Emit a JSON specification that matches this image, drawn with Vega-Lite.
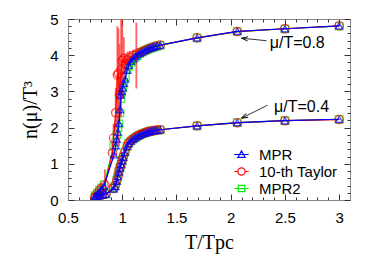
{
  "$schema": "https://vega.github.io/schema/vega-lite/v6.json",
  "width": 282,
  "height": 181,
  "autosize": "none",
  "padding": {"left": 68, "top": 19, "right": 32, "bottom": 67},
  "config": {
    "view": {"stroke": "#888888", "strokeWidth": 1},
    "axis": {"labelFont": "Liberation Sans", "labelFontSize": 15, "labelColor": "black", "tickColor": "#333333", "domainColor": "#888888", "titleFont": "Liberation Serif", "titleFontSize": 20, "titleFontWeight": "normal", "titleColor": "black", "grid": false, "labelFlush": false, "labelOverlap": false, "labelBound": false}
  },
  "datasets": {
    "mpr": [
      {"series":"MPR","mu":0.4,"T":0.75,"n":0.08},{"series":"MPR","mu":0.4,"T":0.77,"n":0.1},{"series":"MPR","mu":0.4,"T":0.79,"n":0.12},{"series":"MPR","mu":0.4,"T":0.82,"n":0.14},{"series":"MPR","mu":0.4,"T":0.85,"n":0.16},{"series":"MPR","mu":0.4,"T":0.92,"n":0.3},{"series":"MPR","mu":0.4,"T":0.935,"n":0.37},{"series":"MPR","mu":0.4,"T":0.95,"n":0.52},{"series":"MPR","mu":0.4,"T":0.96,"n":0.65},{"series":"MPR","mu":0.4,"T":0.97,"n":0.77},{"series":"MPR","mu":0.4,"T":0.98,"n":0.88},{"series":"MPR","mu":0.4,"T":0.99,"n":0.98},{"series":"MPR","mu":0.4,"T":1.0,"n":1.08},{"series":"MPR","mu":0.4,"T":1.01,"n":1.18},{"series":"MPR","mu":0.4,"T":1.025,"n":1.32},{"series":"MPR","mu":0.4,"T":1.045,"n":1.48},{"series":"MPR","mu":0.4,"T":1.06,"n":1.56},{"series":"MPR","mu":0.4,"T":1.08,"n":1.63},{"series":"MPR","mu":0.4,"T":1.1,"n":1.68},{"series":"MPR","mu":0.4,"T":1.12,"n":1.72},{"series":"MPR","mu":0.4,"T":1.14,"n":1.76},{"series":"MPR","mu":0.4,"T":1.16,"n":1.79},{"series":"MPR","mu":0.4,"T":1.18,"n":1.82},{"series":"MPR","mu":0.4,"T":1.2,"n":1.84},{"series":"MPR","mu":0.4,"T":1.22,"n":1.86},{"series":"MPR","mu":0.4,"T":1.24,"n":1.88},{"series":"MPR","mu":0.4,"T":1.26,"n":1.9},{"series":"MPR","mu":0.4,"T":1.28,"n":1.91},{"series":"MPR","mu":0.4,"T":1.3,"n":1.92},{"series":"MPR","mu":0.4,"T":1.32,"n":1.93},{"series":"MPR","mu":0.4,"T":1.35,"n":1.94},{"series":"MPR","mu":0.4,"T":1.69,"n":2.05},{"series":"MPR","mu":0.4,"T":2.06,"n":2.14},{"series":"MPR","mu":0.4,"T":2.5,"n":2.19},{"series":"MPR","mu":0.4,"T":3.0,"n":2.23},
      {"series":"MPR","mu":0.8,"T":0.75,"n":0.1},{"series":"MPR","mu":0.8,"T":0.77,"n":0.17},{"series":"MPR","mu":0.8,"T":0.79,"n":0.24},{"series":"MPR","mu":0.8,"T":0.81,"n":0.3},{"series":"MPR","mu":0.8,"T":0.83,"n":0.38},{"series":"MPR","mu":0.8,"T":0.925,"n":1.25},{"series":"MPR","mu":0.8,"T":0.94,"n":1.5},{"series":"MPR","mu":0.8,"T":0.95,"n":1.68},{"series":"MPR","mu":0.8,"T":0.96,"n":1.87},{"series":"MPR","mu":0.8,"T":0.97,"n":2.12},{"series":"MPR","mu":0.8,"T":0.98,"n":2.5},{"series":"MPR","mu":0.8,"T":0.987,"n":2.9},{"series":"MPR","mu":0.8,"T":0.995,"n":3.0},{"series":"MPR","mu":0.8,"T":1.005,"n":3.1},{"series":"MPR","mu":0.8,"T":1.015,"n":3.22},{"series":"MPR","mu":0.8,"T":1.027,"n":3.34},{"series":"MPR","mu":0.8,"T":1.045,"n":3.58},{"series":"MPR","mu":0.8,"T":1.06,"n":3.72},{"series":"MPR","mu":0.8,"T":1.08,"n":3.83},{"series":"MPR","mu":0.8,"T":1.1,"n":3.9},{"series":"MPR","mu":0.8,"T":1.12,"n":3.96},{"series":"MPR","mu":0.8,"T":1.14,"n":4.01},{"series":"MPR","mu":0.8,"T":1.16,"n":4.05},{"series":"MPR","mu":0.8,"T":1.18,"n":4.09},{"series":"MPR","mu":0.8,"T":1.2,"n":4.12},{"series":"MPR","mu":0.8,"T":1.22,"n":4.15},{"series":"MPR","mu":0.8,"T":1.24,"n":4.18},{"series":"MPR","mu":0.8,"T":1.26,"n":4.2},{"series":"MPR","mu":0.8,"T":1.28,"n":4.22},{"series":"MPR","mu":0.8,"T":1.3,"n":4.24},{"series":"MPR","mu":0.8,"T":1.32,"n":4.26},{"series":"MPR","mu":0.8,"T":1.35,"n":4.28},{"series":"MPR","mu":0.8,"T":1.69,"n":4.48},{"series":"MPR","mu":0.8,"T":2.06,"n":4.66},{"series":"MPR","mu":0.8,"T":2.5,"n":4.73},{"series":"MPR","mu":0.8,"T":3.0,"n":4.81}
    ],
    "taylor": [
      {"series":"10-th Taylor","mu":0.4,"T":0.75,"n":0.07,"lo":0.04,"hi":0.1},{"series":"10-th Taylor","mu":0.4,"T":0.77,"n":0.1,"lo":0.07,"hi":0.13},{"series":"10-th Taylor","mu":0.4,"T":0.79,"n":0.12,"lo":0.09,"hi":0.15},{"series":"10-th Taylor","mu":0.4,"T":0.82,"n":0.15,"lo":0.12,"hi":0.18},{"series":"10-th Taylor","mu":0.4,"T":0.85,"n":0.17,"lo":0.13,"hi":0.21},{"series":"10-th Taylor","mu":0.4,"T":0.92,"n":0.32,"lo":0.27,"hi":0.37},{"series":"10-th Taylor","mu":0.4,"T":0.935,"n":0.4,"lo":0.34,"hi":0.46},{"series":"10-th Taylor","mu":0.4,"T":0.95,"n":0.55,"lo":0.48,"hi":0.62},{"series":"10-th Taylor","mu":0.4,"T":0.96,"n":0.66,"lo":0.59,"hi":0.73},{"series":"10-th Taylor","mu":0.4,"T":0.97,"n":0.8,"lo":0.73,"hi":0.87},{"series":"10-th Taylor","mu":0.4,"T":0.98,"n":0.9,"lo":0.83,"hi":0.97},{"series":"10-th Taylor","mu":0.4,"T":0.99,"n":1.0,"lo":0.94,"hi":1.06},{"series":"10-th Taylor","mu":0.4,"T":1.0,"n":1.1,"lo":1.04,"hi":1.16},{"series":"10-th Taylor","mu":0.4,"T":1.01,"n":1.2,"lo":1.15,"hi":1.25},{"series":"10-th Taylor","mu":0.4,"T":1.025,"n":1.33,"lo":1.29,"hi":1.37},{"series":"10-th Taylor","mu":0.4,"T":1.045,"n":1.48,"lo":1.45,"hi":1.51},{"series":"10-th Taylor","mu":0.4,"T":1.06,"n":1.57,"lo":1.54,"hi":1.6},{"series":"10-th Taylor","mu":0.4,"T":1.08,"n":1.64,"lo":1.62,"hi":1.66},{"series":"10-th Taylor","mu":0.4,"T":1.1,"n":1.69,"lo":1.67,"hi":1.71},{"series":"10-th Taylor","mu":0.4,"T":1.12,"n":1.73,"lo":1.71,"hi":1.75},{"series":"10-th Taylor","mu":0.4,"T":1.14,"n":1.77,"lo":1.75,"hi":1.79},{"series":"10-th Taylor","mu":0.4,"T":1.16,"n":1.8,"lo":1.78,"hi":1.82},{"series":"10-th Taylor","mu":0.4,"T":1.18,"n":1.82,"lo":1.8,"hi":1.84},{"series":"10-th Taylor","mu":0.4,"T":1.2,"n":1.85,"lo":1.83,"hi":1.87},{"series":"10-th Taylor","mu":0.4,"T":1.22,"n":1.87,"lo":1.85,"hi":1.89},{"series":"10-th Taylor","mu":0.4,"T":1.24,"n":1.89,"lo":1.87,"hi":1.91},{"series":"10-th Taylor","mu":0.4,"T":1.26,"n":1.9,"lo":1.88,"hi":1.92},{"series":"10-th Taylor","mu":0.4,"T":1.28,"n":1.91,"lo":1.89,"hi":1.93},{"series":"10-th Taylor","mu":0.4,"T":1.3,"n":1.92,"lo":1.9,"hi":1.94},{"series":"10-th Taylor","mu":0.4,"T":1.32,"n":1.93,"lo":1.91,"hi":1.95},{"series":"10-th Taylor","mu":0.4,"T":1.35,"n":1.94,"lo":1.92,"hi":1.96},{"series":"10-th Taylor","mu":0.4,"T":1.69,"n":2.05,"lo":2.04,"hi":2.06},{"series":"10-th Taylor","mu":0.4,"T":2.06,"n":2.13,"lo":2.12,"hi":2.14},{"series":"10-th Taylor","mu":0.4,"T":2.5,"n":2.19,"lo":2.18,"hi":2.2},{"series":"10-th Taylor","mu":0.4,"T":3.0,"n":2.22,"lo":2.21,"hi":2.23},
      {"series":"10-th Taylor","mu":0.8,"T":0.75,"n":0.08,"lo":0.05,"hi":0.11},{"series":"10-th Taylor","mu":0.8,"T":0.77,"n":0.17,"lo":0.13,"hi":0.21},{"series":"10-th Taylor","mu":0.8,"T":0.79,"n":0.26,"lo":0.2,"hi":0.32},{"series":"10-th Taylor","mu":0.8,"T":0.81,"n":0.33,"lo":0.27,"hi":0.4},{"series":"10-th Taylor","mu":0.8,"T":0.84,"n":0.42,"lo":0.37,"hi":0.85},{"series":"10-th Taylor","mu":0.8,"T":0.91,"n":1.3,"lo":1.1,"hi":1.6},{"series":"10-th Taylor","mu":0.8,"T":0.92,"n":1.71,"lo":1.4,"hi":2.1},{"series":"10-th Taylor","mu":0.8,"T":0.94,"n":2.41,"lo":1.9,"hi":3.1},{"series":"10-th Taylor","mu":0.8,"T":0.955,"n":3.45,"lo":2.0,"hi":4.8},{"series":"10-th Taylor","mu":0.8,"T":0.965,"n":3.5,"lo":1.5,"hi":4.74},{"series":"10-th Taylor","mu":0.8,"T":0.975,"n":2.9,"lo":2.2,"hi":4.3},{"series":"10-th Taylor","mu":0.8,"T":0.99,"n":3.6,"lo":2.3,"hi":5.6},{"series":"10-th Taylor","mu":0.8,"T":1.0,"n":3.85,"lo":2.8,"hi":5.3},{"series":"10-th Taylor","mu":0.8,"T":1.015,"n":3.91,"lo":3.3,"hi":4.5},{"series":"10-th Taylor","mu":0.8,"T":1.03,"n":3.75,"lo":3.45,"hi":4.05},{"series":"10-th Taylor","mu":0.8,"T":1.05,"n":3.86,"lo":3.6,"hi":4.1},{"series":"10-th Taylor","mu":0.8,"T":1.07,"n":3.94,"lo":3.8,"hi":4.12},{"series":"10-th Taylor","mu":0.8,"T":1.1,"n":3.99,"lo":3.86,"hi":4.15},{"series":"10-th Taylor","mu":0.8,"T":1.13,"n":4.03,"lo":3.08,"hi":4.9},{"series":"10-th Taylor","mu":0.8,"T":1.16,"n":4.07,"lo":4.0,"hi":4.15},{"series":"10-th Taylor","mu":0.8,"T":1.19,"n":4.11,"lo":4.06,"hi":4.17},{"series":"10-th Taylor","mu":0.8,"T":1.22,"n":4.15,"lo":4.1,"hi":4.2},{"series":"10-th Taylor","mu":0.8,"T":1.25,"n":4.19,"lo":4.15,"hi":4.23},{"series":"10-th Taylor","mu":0.8,"T":1.28,"n":4.22,"lo":4.19,"hi":4.25},{"series":"10-th Taylor","mu":0.8,"T":1.31,"n":4.25,"lo":4.22,"hi":4.28},{"series":"10-th Taylor","mu":0.8,"T":1.35,"n":4.28,"lo":4.25,"hi":4.31},{"series":"10-th Taylor","mu":0.8,"T":1.69,"n":4.48,"lo":4.46,"hi":4.5},{"series":"10-th Taylor","mu":0.8,"T":2.06,"n":4.65,"lo":4.63,"hi":4.67},{"series":"10-th Taylor","mu":0.8,"T":2.5,"n":4.73,"lo":4.71,"hi":4.75},{"series":"10-th Taylor","mu":0.8,"T":3.0,"n":4.81,"lo":4.79,"hi":4.83}
    ],
    "mpr2": [
      {"series":"MPR2","mu":0.4,"T":0.75,"n":0.09},{"series":"MPR2","mu":0.4,"T":0.77,"n":0.11},{"series":"MPR2","mu":0.4,"T":0.79,"n":0.13},{"series":"MPR2","mu":0.4,"T":0.82,"n":0.15},{"series":"MPR2","mu":0.4,"T":0.85,"n":0.17},{"series":"MPR2","mu":0.4,"T":0.92,"n":0.33},{"series":"MPR2","mu":0.4,"T":0.935,"n":0.39},{"series":"MPR2","mu":0.4,"T":0.95,"n":0.54},{"series":"MPR2","mu":0.4,"T":0.96,"n":0.67},{"series":"MPR2","mu":0.4,"T":0.97,"n":0.79},{"series":"MPR2","mu":0.4,"T":0.98,"n":0.9},{"series":"MPR2","mu":0.4,"T":0.99,"n":1.0},{"series":"MPR2","mu":0.4,"T":1.0,"n":1.1},{"series":"MPR2","mu":0.4,"T":1.01,"n":1.2},{"series":"MPR2","mu":0.4,"T":1.025,"n":1.33},{"series":"MPR2","mu":0.4,"T":1.045,"n":1.49},{"series":"MPR2","mu":0.4,"T":1.06,"n":1.57},{"series":"MPR2","mu":0.4,"T":1.08,"n":1.63},{"series":"MPR2","mu":0.4,"T":1.1,"n":1.68},{"series":"MPR2","mu":0.4,"T":1.12,"n":1.72},{"series":"MPR2","mu":0.4,"T":1.14,"n":1.76},{"series":"MPR2","mu":0.4,"T":1.16,"n":1.79},{"series":"MPR2","mu":0.4,"T":1.18,"n":1.82},{"series":"MPR2","mu":0.4,"T":1.2,"n":1.84},{"series":"MPR2","mu":0.4,"T":1.22,"n":1.86},{"series":"MPR2","mu":0.4,"T":1.24,"n":1.88},{"series":"MPR2","mu":0.4,"T":1.26,"n":1.9},{"series":"MPR2","mu":0.4,"T":1.28,"n":1.91},{"series":"MPR2","mu":0.4,"T":1.3,"n":1.92},{"series":"MPR2","mu":0.4,"T":1.32,"n":1.93},{"series":"MPR2","mu":0.4,"T":1.35,"n":1.94},{"series":"MPR2","mu":0.4,"T":1.69,"n":2.05},{"series":"MPR2","mu":0.4,"T":2.06,"n":2.14},{"series":"MPR2","mu":0.4,"T":2.5,"n":2.19},{"series":"MPR2","mu":0.4,"T":3.0,"n":2.23},
      {"series":"MPR2","mu":0.8,"T":0.75,"n":0.12},{"series":"MPR2","mu":0.8,"T":0.77,"n":0.2},{"series":"MPR2","mu":0.8,"T":0.79,"n":0.27},{"series":"MPR2","mu":0.8,"T":0.81,"n":0.33},{"series":"MPR2","mu":0.8,"T":0.83,"n":0.42},{"series":"MPR2","mu":0.8,"T":0.92,"n":1.48},{"series":"MPR2","mu":0.8,"T":0.94,"n":1.6},{"series":"MPR2","mu":0.8,"T":0.95,"n":1.8},{"series":"MPR2","mu":0.8,"T":0.96,"n":2.0},{"series":"MPR2","mu":0.8,"T":0.97,"n":2.1},{"series":"MPR2","mu":0.8,"T":0.98,"n":2.4},{"series":"MPR2","mu":0.8,"T":0.987,"n":2.8},{"series":"MPR2","mu":0.8,"T":0.995,"n":2.98},{"series":"MPR2","mu":0.8,"T":1.005,"n":3.1},{"series":"MPR2","mu":0.8,"T":1.015,"n":3.25},{"series":"MPR2","mu":0.8,"T":1.03,"n":3.4},{"series":"MPR2","mu":0.8,"T":1.045,"n":3.6},{"series":"MPR2","mu":0.8,"T":1.06,"n":3.7},{"series":"MPR2","mu":0.8,"T":1.08,"n":3.8},{"series":"MPR2","mu":0.8,"T":1.1,"n":3.87},{"series":"MPR2","mu":0.8,"T":1.12,"n":3.94},{"series":"MPR2","mu":0.8,"T":1.14,"n":3.99},{"series":"MPR2","mu":0.8,"T":1.16,"n":4.04},{"series":"MPR2","mu":0.8,"T":1.18,"n":4.08},{"series":"MPR2","mu":0.8,"T":1.2,"n":4.11},{"series":"MPR2","mu":0.8,"T":1.22,"n":4.14},{"series":"MPR2","mu":0.8,"T":1.24,"n":4.17},{"series":"MPR2","mu":0.8,"T":1.26,"n":4.19},{"series":"MPR2","mu":0.8,"T":1.28,"n":4.21},{"series":"MPR2","mu":0.8,"T":1.3,"n":4.23},{"series":"MPR2","mu":0.8,"T":1.32,"n":4.25},{"series":"MPR2","mu":0.8,"T":1.35,"n":4.27},{"series":"MPR2","mu":0.8,"T":1.69,"n":4.48},{"series":"MPR2","mu":0.8,"T":2.06,"n":4.65},{"series":"MPR2","mu":0.8,"T":2.5,"n":4.73},{"series":"MPR2","mu":0.8,"T":3.0,"n":4.8}
    ],
    "labels": [
      {"label":"μ/T=0.8","T":2.36,"n":4.33},
      {"label":"μ/T=0.4","T":2.4,"n":2.57}
    ],
    "arrows": [
      {"curve":"0.8","T":2.33,"n":4.40,"T2":2.1,"n2":4.47},
      {"curve":"0.4","T":2.34,"n":2.62,"T2":2.1,"n2":2.26}
    ]
  },
  "encoding": {
    "x": {"field": "T", "type": "quantitative", "scale": {"domain": [0.5, 3.1], "nice": false, "zero": false}, "axis": null},
    "y": {"field": "n", "type": "quantitative", "scale": {"domain": [0, 5], "nice": false, "zero": false}, "axis": null}
  },
  "layer": [
    {"data": {"name": "mpr2"}, "mark": {"type": "line", "color": "#00ee00", "strokeWidth": 1.2, "clip": true}, "encoding": {"detail": {"field": "mu"}}},
    {"data": {"name": "mpr2"}, "mark": {"type": "point", "shape": "square", "filled": false, "color": "#00ee00", "size": 55, "strokeWidth": 1.3, "clip": true}},
    {"data": {"name": "taylor"}, "mark": {"type": "rule", "color": "#ff3030", "strokeWidth": 1.8, "opacity": 0.75, "clip": true},
     "encoding": {"y": {"field": "lo", "type": "quantitative", "scale": {"domain": [0, 5], "nice": false, "zero": false}, "axis": null}, "y2": {"field": "hi"}}},
    {"data": {"name": "taylor"}, "mark": {"type": "line", "color": "#ff0000", "strokeWidth": 1.2, "clip": true}, "encoding": {"detail": {"field": "mu"}}},
    {"data": {"name": "taylor"}, "mark": {"type": "point", "shape": "circle", "filled": false, "color": "#ff0000", "size": 70, "strokeWidth": 1.3, "clip": true}},
    {"data": {"name": "mpr"}, "mark": {"type": "line", "color": "#0000ff", "strokeWidth": 1.2, "clip": true}, "encoding": {"detail": {"field": "mu"}}},
    {"data": {"name": "mpr"}, "mark": {"type": "point", "shape": "triangle-up", "filled": false, "color": "#0000ff", "size": 50, "strokeWidth": 1.3, "clip": true},
     "encoding": {
       "x": {"field": "T", "type": "quantitative", "scale": {"domain": [0.5, 3.1], "nice": false, "zero": false},
             "axis": {"orient": "bottom", "title": "T/Tpc", "values": [0.5,0.6,0.7,0.8,0.9,1,1.1,1.2,1.3,1.4,1.5,1.6,1.7,1.8,1.9,2,2.1,2.2,2.3,2.4,2.5,2.6,2.7,2.8,2.9,3],
                      "tickSize": {"condition": {"test": "abs(datum.value*2 - round(datum.value*2)) < 0.001", "value": -6}, "value": -3},
                      "labelExpr": "abs(datum.value*2 - round(datum.value*2)) < 0.001 ? format(datum.value, '~g') : ''",
                      "labelPadding": 16, "titlePadding": 4}},
       "y": {"field": "n", "type": "quantitative", "scale": {"domain": [0, 5], "nice": false, "zero": false},
             "axis": {"orient": "left", "title": "n(μ)/T³", "values": [0,0.2,0.4,0.6,0.8,1,1.2,1.4,1.6,1.8,2,2.2,2.4,2.6,2.8,3,3.2,3.4,3.6,3.8,4,4.2,4.4,4.6,4.8,5],
                      "tickSize": {"condition": {"test": "abs(datum.value - round(datum.value)) < 0.001", "value": -6}, "value": -3},
                      "labelExpr": "abs(datum.value - round(datum.value)) < 0.001 ? format(datum.value, 'd') : ''",
                      "labelPadding": 16, "titlePadding": 9}}
     }},
    {"data": {"name": "mpr"}, "mark": {"type": "point", "filled": false, "opacity": 0, "size": 64},
     "encoding": {
       "color": {"field": "series", "type": "nominal", "scale": {"domain": ["MPR", "10-th Taylor", "MPR2"], "range": ["#0000ff", "#ff0000", "#00ee00"]},
                 "legend": {"orient": "none", "legendX": 166, "legendY": 128, "title": null, "padding": 0, "labelFont": "Liberation Sans", "labelFontSize": 15, "labelColor": "black", "symbolSize": 64, "symbolStrokeWidth": 1.2, "labelOffset": 10, "rowPadding": 1, "symbolOpacity": 1}},
       "shape": {"field": "series", "type": "nominal", "scale": {"domain": ["MPR", "10-th Taylor", "MPR2"], "range": ["M-1.8,0H1.8M0,-0.9L0.9,0.7L-0.9,0.7Z", "M-1.8,0H-0.9M0.9,0H1.8M0.9,0A0.9,0.9,0,1,1,-0.9,0A0.9,0.9,0,1,1,0.9,0Z", "M-1.8,0H1.8M-0.8,-0.8H0.8V0.8H-0.8Z"]},
                 "legend": {"orient": "none", "legendX": 166, "legendY": 128, "title": null, "padding": 0, "labelFont": "Liberation Sans", "labelFontSize": 15, "labelColor": "black", "symbolSize": 64, "symbolStrokeWidth": 1.2, "labelOffset": 10, "rowPadding": 1, "symbolOpacity": 1}}
     }},
    {"data": {"name": "arrows"}, "mark": {"type": "rule", "color": "black", "strokeWidth": 0.8},
     "encoding": {"x2": {"field": "T2"}, "y2": {"field": "n2"}}},
    {"data": {"name": "arrows"}, "transform": [{"filter": "datum.curve == '0.8'"}],
     "mark": {"type": "point", "shape": "M0,0L1.8,-0.6M0,0L1.8,0.6", "filled": false, "color": "black", "strokeWidth": 0.9, "size": 49, "angle": 6, "opacity": 1},
     "encoding": {"x": {"field": "T2", "type": "quantitative", "scale": {"domain": [0.5, 3.1], "nice": false, "zero": false}, "axis": null}, "y": {"field": "n2", "type": "quantitative", "scale": {"domain": [0, 5], "nice": false, "zero": false}, "axis": null}}},
    {"data": {"name": "arrows"}, "transform": [{"filter": "datum.curve == '0.4'"}],
     "mark": {"type": "point", "shape": "M0,0L1.8,-0.6M0,0L1.8,0.6", "filled": false, "color": "black", "strokeWidth": 0.9, "size": 49, "angle": 333, "opacity": 1},
     "encoding": {"x": {"field": "T2", "type": "quantitative", "scale": {"domain": [0.5, 3.1], "nice": false, "zero": false}, "axis": null}, "y": {"field": "n2", "type": "quantitative", "scale": {"domain": [0, 5], "nice": false, "zero": false}, "axis": null}}},
    {"data": {"name": "labels"}, "mark": {"type": "text", "align": "left", "baseline": "middle", "font": "Liberation Sans", "fontSize": 16, "color": "black"},
     "encoding": {
       "text": {"field": "label"},
       "x": {"field": "T", "type": "quantitative", "scale": {"domain": [0.5, 3.1], "nice": false, "zero": false},
             "axis": {"orient": "top", "title": null, "labels": false, "domain": false, "values": [0.5,0.6,0.7,0.8,0.9,1,1.1,1.2,1.3,1.4,1.5,1.6,1.7,1.8,1.9,2,2.1,2.2,2.3,2.4,2.5,2.6,2.7,2.8,2.9,3],
                      "tickSize": {"condition": {"test": "abs(datum.value*2 - round(datum.value*2)) < 0.001", "value": -6}, "value": -3}}},
       "y": {"field": "n", "type": "quantitative", "scale": {"domain": [0, 5], "nice": false, "zero": false},
             "axis": {"orient": "right", "title": null, "labels": false, "domain": false, "values": [0,0.2,0.4,0.6,0.8,1,1.2,1.4,1.6,1.8,2,2.2,2.4,2.6,2.8,3,3.2,3.4,3.6,3.8,4,4.2,4.4,4.6,4.8,5],
                      "tickSize": {"condition": {"test": "abs(datum.value - round(datum.value)) < 0.001", "value": -6}, "value": -3}}}
     }}
  ],
  "resolve": {"axis": {"x": "independent", "y": "independent"}}
}
